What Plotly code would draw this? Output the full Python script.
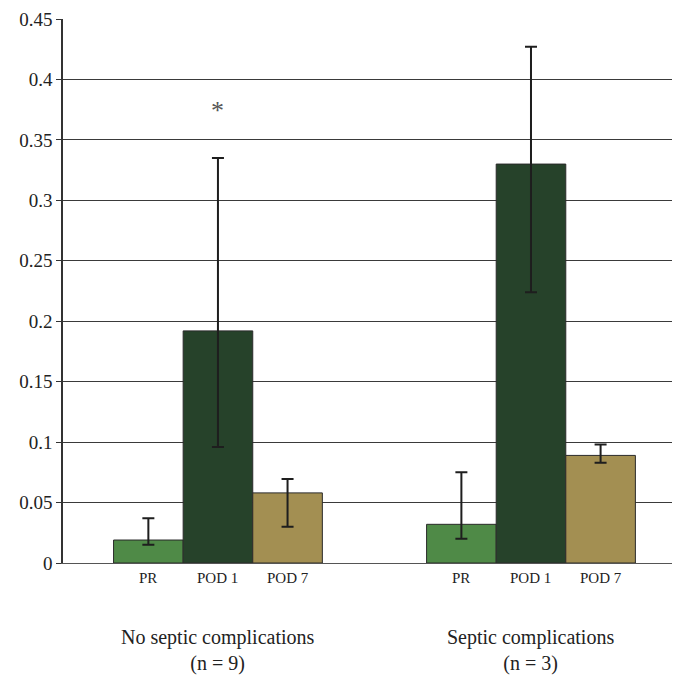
import plotly.graph_objects as go

groups = ["No septic complications<br>(n = 9)", "Septic complications<br>(n = 3)"]
series = ["PR", "POD 1", "POD 7"]
colors = ["#4f8a47", "#26422a", "#a38f52"]
values = {
    "PR": [0.019, 0.032],
    "POD 1": [0.192, 0.330],
    "POD 7": [0.058, 0.089],
}
err_hi = {
    "PR": [0.037, 0.075],
    "POD 1": [0.335, 0.427],
    "POD 7": [0.0695, 0.098],
}
err_lo = {
    "PR": [0.015, 0.020],
    "POD 1": [0.096, 0.224],
    "POD 7": [0.030, 0.083],
}
star_y = 0.374
ytick_vals = [0, 0.05, 0.1, 0.15, 0.2, 0.25, 0.3, 0.35, 0.4, 0.45]
ytick_text = ["0", "0.05", "0.1", "0.15", "0.2", "0.25", "0.3", "0.35", "0.4", "0.45"]

BARGAP = 0.333
FONT = "Liberation Serif"

fig = go.Figure()
xs = list(range(len(groups)))
for s, c in zip(series, colors):
    v = values[s]
    fig.add_trace(go.Bar(
        x=xs, y=v, name=s,
        marker=dict(color=c, line=dict(color="#2a2a2a", width=1)),
        error_y=dict(type="data", symmetric=False,
                     array=[h - y for h, y in zip(err_hi[s], v)],
                     arrayminus=[y - l for l, y in zip(err_lo[s], v)],
                     color="#1e1e1e", thickness=2, width=6),
    ))

bw = (1 - BARGAP) / len(series)
annotations = []
for gi, g in enumerate(groups):
    for si, s in enumerate(series):
        xc = gi - (1 - BARGAP) / 2 + bw * (si + 0.5)
        annotations.append(dict(x=xc, y=0, xref="x", yref="y", text=s, showarrow=False,
                                yanchor="top", yshift=-5,
                                font=dict(family=FONT, size=15, color="#222")))
    annotations.append(dict(x=gi, y=0, xref="x", yref="y", text=g, showarrow=False,
                            yanchor="top", yshift=-61,
                            font=dict(family=FONT, size=20, color="#222")))
annotations.append(dict(x=0 - (1 - BARGAP) / 2 + bw * 1.5, y=star_y, xref="x", yref="y",
                        text="*", showarrow=False,
                        font=dict(family=FONT, size=26, color="#555")))

fig.update_layout(
    width=672, height=683,
    margin=dict(l=55, r=0, t=11, b=128),
    paper_bgcolor="white", plot_bgcolor="white",
    barmode="group", bargap=BARGAP, bargroupgap=0,
    showlegend=False,
    annotations=annotations,
    font=dict(family=FONT),
    xaxis=dict(range=[-0.495, 1.476], showticklabels=False, showgrid=False,
               showline=True, linecolor="#555", linewidth=1, zeroline=False, ticks=""),
    yaxis=dict(range=[0, 0.45], tickvals=ytick_vals, ticktext=ytick_text,
               showgrid=True, gridcolor="#3a3a3a", gridwidth=1,
               showline=True, linecolor="#333", linewidth=1.5,
               ticks="outside", ticklen=5, tickcolor="#333",
               zeroline=False,
               tickfont=dict(family=FONT, size=19, color="#222")),
)

fig.write_html("out.html")
